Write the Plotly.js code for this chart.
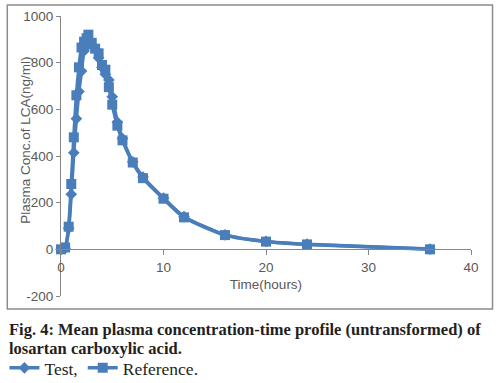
<!DOCTYPE html>
<html>
<head>
<meta charset="utf-8">
<script src="https://cdn.plot.ly/plotly-3.0.1.min.js"></script>
<style>html,body{margin:0;padding:0;background:#fff;}#chart{width:500px;height:383px;}</style>
</head>
<body>
<div id="chart"></div>
<script>
// Time points (hours)
const timeHours = [0, 0.4, 0.75, 1.0, 1.25, 1.5, 1.75, 2.0, 2.25, 2.5, 2.67, 3.0, 3.33, 3.67, 4.0, 4.33, 4.67, 5.0, 5.5, 6.0, 7, 8, 10, 12, 16, 20, 24, 36];
// Mean plasma concentration of LCA (ng/ml)
const testConc = [0, 5, 90, 236, 414, 560, 676, 764, 850, 870, 880, 878, 860, 820, 780, 750, 726, 654, 545, 475, 375, 310, 220, 140, 62, 34, 22, 1];
const referenceConc = [0, 8, 97, 280, 480, 660, 780, 865, 890, 905, 920, 885, 860, 840, 790, 770, 695, 620, 530, 467, 372, 305, 217, 137, 61, 33, 21, 0];
const seriesNames = ["Test,", "Reference."];
const xTickVals = [0, 10, 20, 30, 40];
const yTickVals = [-200, 0, 200, 400, 600, 800, 1000];
const xTitle = "Time(hours)";
const yTitle = "Plasma Conc.of LCA(ng/ml)";
const captionLine1 = "Fig. 4: Mean plasma concentration-time profile (untransformed) of";
const captionLine2 = "losartan carboxylic acid.";

const blue = "#4A7EBB";
const axisGray = "#868686";
const textGray = "#595959";

const traces = [
  {
    x: timeHours, y: testConc, name: seriesNames[0], type: "scatter", mode: "lines+markers",
    line: {color: blue, width: 3.5, shape: "spline", smoothing: 0.6},
    marker: {symbol: "diamond", size: 9, color: blue},
    cliponaxis: false
  },
  {
    x: timeHours, y: referenceConc, name: seriesNames[1], type: "scatter", mode: "lines+markers",
    line: {color: blue, width: 3.5, shape: "spline", smoothing: 0.6},
    marker: {symbol: "square", size: 10, color: blue},
    cliponaxis: false
  }
];

const serif = "Liberation Serif, Times New Roman, serif";
const sans = "Liberation Sans, Arial, sans-serif";

const layout = {
  width: 500, height: 383,
  margin: {l: 61, r: 29, t: 16, b: 87, pad: 0, autoexpand: false},
  paper_bgcolor: "#fff", plot_bgcolor: "#fff",
  showlegend: true,
  legend: {
    orientation: "h", x: -0.138, xanchor: "left", y: -0.257, yanchor: "middle",
    font: {family: serif, size: 17.5, color: "#231f20"},
    itemwidth: 30, tracegroupgap: 0, bgcolor: "rgba(0,0,0,0)"
  },
  xaxis: {
    range: [0, 40], tickvals: xTickVals, ticktext: xTickVals.map(String),
    anchor: "free", position: 1/6,
    showline: true, linecolor: axisGray, linewidth: 1,
    ticks: "outside", ticklen: 5, tickcolor: axisGray,
    showgrid: false, zeroline: false,
    tickfont: {family: sans, size: 13.5, color: textGray},
    title: {text: xTitle, font: {family: sans, size: 13.5, color: textGray}, standoff: 6}
  },
  yaxis: {
    range: [-200, 1000], tickvals: yTickVals, ticktext: yTickVals.map(String),
    showline: true, linecolor: axisGray, linewidth: 1,
    ticks: "outside", ticklen: 4, tickcolor: axisGray,
    showgrid: false, zeroline: false,
    tickfont: {family: sans, size: 13.5, color: textGray}
  },
  shapes: [
    {type: "rect", xref: "paper", yref: "paper", x0: -0.131, x1: 1.0525, y0: -0.046, y1: 1.039,
     line: {color: "#8c8c8c", width: 1.5}, fillcolor: "rgba(0,0,0,0)", layer: "below"}
  ],
  annotations: [
    {text: yTitle, textangle: -90, xref: "paper", yref: "paper", x: -0.0886, y: 0.557,
     xanchor: "center", yanchor: "middle", showarrow: false,
     font: {family: sans, size: 13.5, color: textGray}},
    {text: "<b>" + captionLine1 + "</b>", xref: "paper", yref: "paper", x: -0.1325, y: -0.121,
     xanchor: "left", yanchor: "middle", showarrow: false,
     font: {family: serif, size: 16.5, color: "#231f20"}},
    {text: "<b>" + captionLine2 + "</b>", xref: "paper", yref: "paper", x: -0.1325, y: -0.189,
     xanchor: "left", yanchor: "middle", showarrow: false,
     font: {family: serif, size: 16.5, color: "#231f20"}}
  ]
};

Plotly.newPlot("chart", traces, layout, {displayModeBar: false, staticPlot: true});
</script>
</body>
</html>
